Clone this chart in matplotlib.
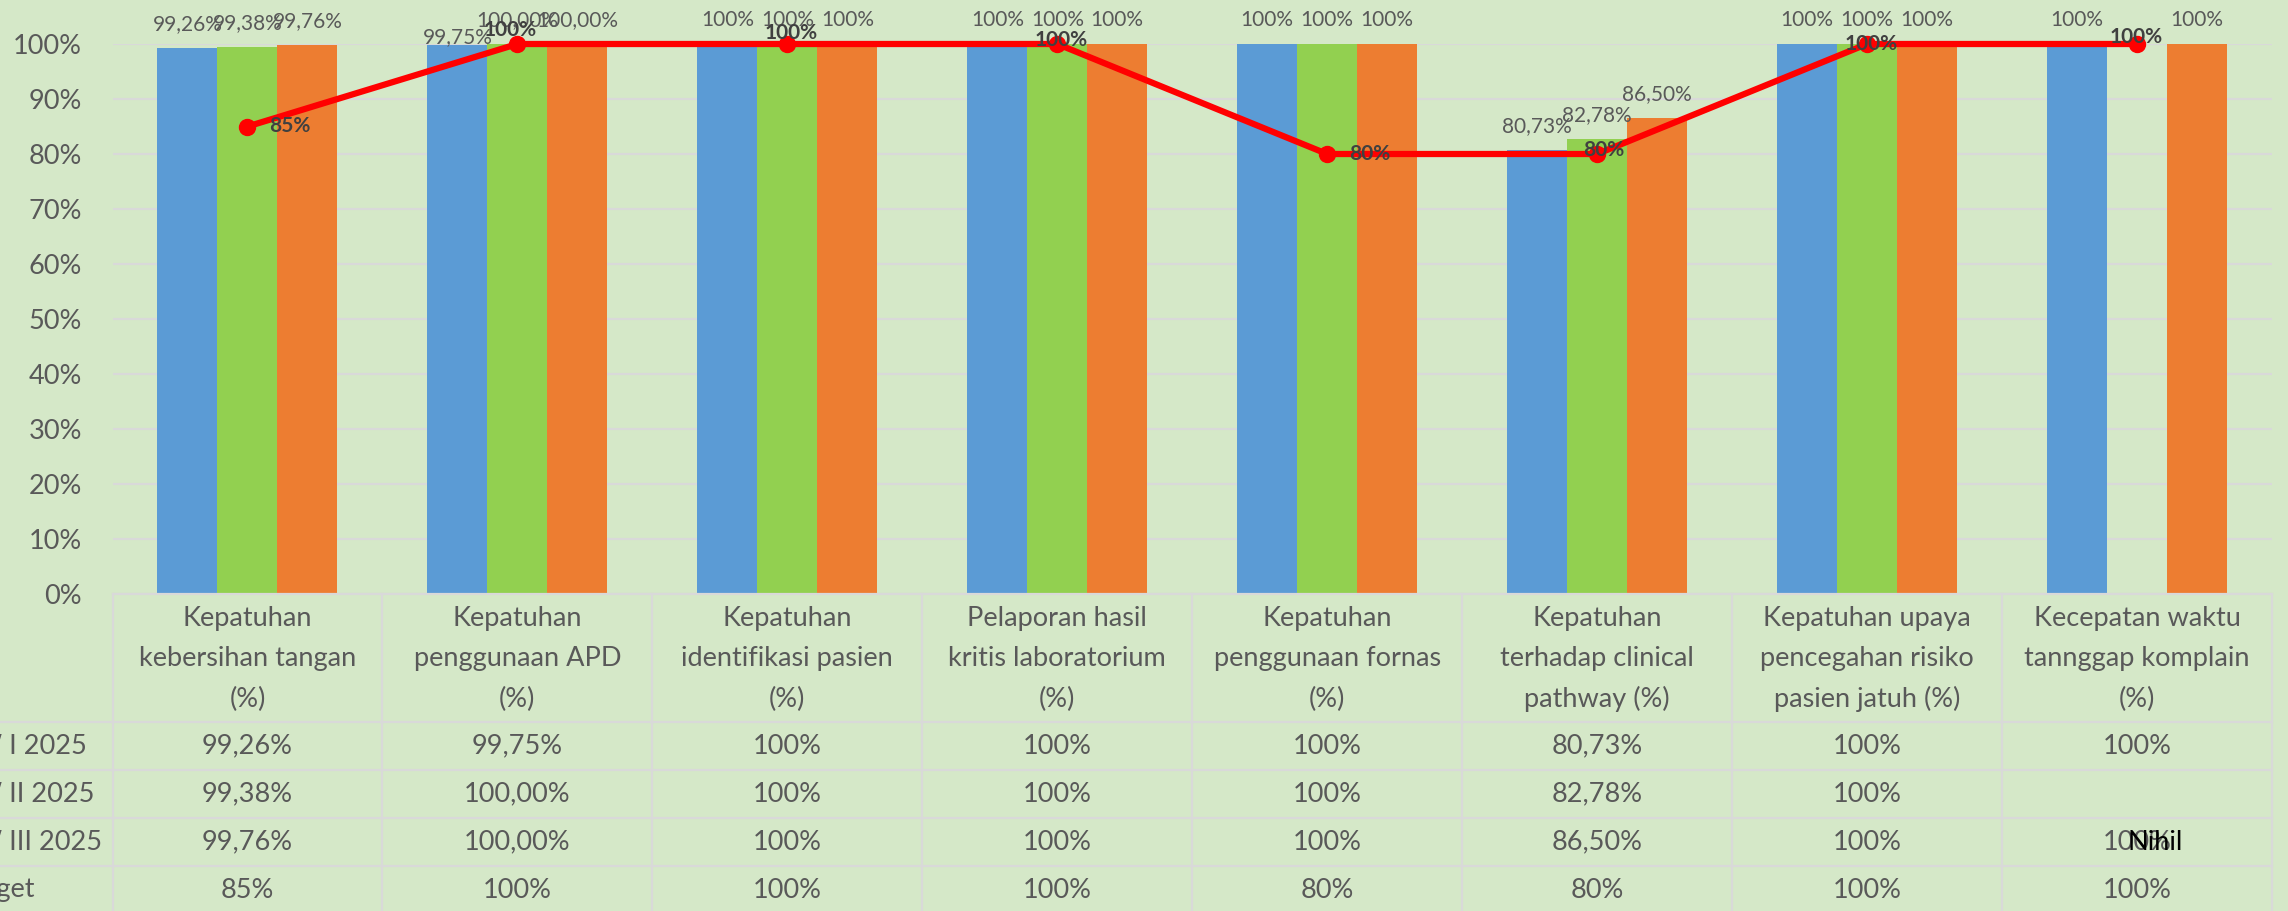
import matplotlib
matplotlib.use("Agg")
import matplotlib.pyplot as plt
from matplotlib.lines import Line2D
import numpy as np

plt.rcParams['font.family'] = ['Lato', 'DejaVu Sans']

# ---- data ----
categories = [
    "Kepatuhan\nkebersihan tangan\n(%)",
    "Kepatuhan\npenggunaan APD\n(%)",
    "Kepatuhan\nidentifikasi pasien\n(%)",
    "Pelaporan hasil\nkritis laboratorium\n(%)",
    "Kepatuhan\npenggunaan fornas\n(%)",
    "Kepatuhan\nterhadap clinical\npathway (%)",
    "Kepatuhan upaya\npencegahan risiko\npasien jatuh (%)",
    "Kecepatan waktu\ntannggap komplain\n(%)",
]
series_names = ["TW I 2025", "TW II 2025", "TW III 2025", "Target"]

tw1 = [99.26, 99.75, 100, 100, 100, 80.73, 100, 100]
tw2 = [99.38, 100, 100, 100, 100, 82.78, 100, np.nan]
tw3 = [99.76, 100, 100, 100, 100, 86.50, 100, 100]
target = [85, 100, 100, 100, 80, 80, 100, 100]

tw1_lbl = ["99,26%", "99,75%", "100%", "100%", "100%", "80,73%", "100%", "100%"]
tw2_lbl = ["99,38%", "100,00%", "100%", "100%", "100%", "82,78%", "100%", ""]
tw3_lbl = ["99,76%", "100,00%", "100%", "100%", "100%", "86,50%", "100%", "100%"]
target_lbl = ["85%", "100%", "100%", "100%", "80%", "80%", "100%", "100%"]

# ---- style ----
W, H = 2288, 911
bg = "#D5E8C8"
grid_c = "#D9D9D9"
txt_c = "#595959"
colors = ["#5B9BD5", "#92D050", "#ED7D31"]
px = 0.72  # pixels -> points at dpi 100

ax_l, ax_r, ax_t, ax_b = 112.5, 2272, 44, 594

fig = plt.figure(figsize=(W / 100, H / 100), dpi=100, facecolor=bg)
ax = fig.add_axes([ax_l / W, 1 - ax_b / H, (ax_r - ax_l) / W, (ax_b - ax_t) / H])
ax.set_facecolor(bg)

x = np.arange(len(categories))
bw = 0.2222
all_series = [tw1, tw2, tw3]
all_lbls = [tw1_lbl, tw2_lbl, tw3_lbl]
label_nudge = {(0, 1): -16}

for i, (vals, lbls) in enumerate(zip(all_series, all_lbls)):
    pos = x + (i - 1) * bw
    ax.bar(pos, vals, bw, color=colors[i], zorder=2, clip_on=False)
    for j, (p, v, l) in enumerate(zip(pos, vals, lbls)):
        if not l:
            continue
        dy = 24 + label_nudge.get((i, j), 0)
        ax.annotate(l, (p, v), xytext=(0, dy * px), textcoords="offset points",
                    ha="center", va="center", fontsize=15, color=txt_c,
                    annotation_clip=False, zorder=6)

ax.plot(x, target, color="#FF0000", lw=4.5, marker="o", ms=11.5, zorder=5,
        clip_on=False)
target_off = [(42, 0), (-7, 14), (4, 11), (4, 4), (43, 0), (7, 4), (4, 0), (-1, 7)]
for xi, v, l, (dx, dy) in zip(x, target, target_lbl, target_off):
    ax.annotate(l, (xi, v), xytext=(dx * px, dy * px), textcoords="offset points",
                ha="center", va="center", fontsize=15, fontweight="bold",
                color="#404040", annotation_clip=False, zorder=7)

ax.set_xlim(-0.5, len(categories) - 0.5)
ax.set_ylim(0, 100)
ax.set_yticks(range(0, 101, 10))
ax.set_yticklabels([f"{v}%" for v in range(0, 101, 10)])
ax.tick_params(axis="y", length=0, pad=22, labelsize=19.5, labelcolor=txt_c)
ax.set_xticks([])
ax.yaxis.grid(True, color=grid_c, lw=1.6)
ax.set_axisbelow(True)
for s in ax.spines.values():
    s.set_visible(False)

# ---- data table under the chart ----
def fx(p):
    return p / W

def fy(p):
    return 1 - p / H

col_w = (ax_r - ax_l) / len(categories)
row_lines = [722, 770, 818, 866]
row_centers = [746, 794, 842, 890]

fig.add_artist(Line2D([fx(ax_l), fx(ax_r)], [fy(ax_b), fy(ax_b)], color=grid_c, lw=1.6))
for r in row_lines:
    fig.add_artist(Line2D([0, fx(ax_r)], [fy(r), fy(r)], color=grid_c, lw=1.6))
for k in range(len(categories) + 1):
    xx = fx(ax_l + k * col_w)
    fig.add_artist(Line2D([xx, xx], [fy(ax_b), 0], color=grid_c, lw=1.6))

for k, cat in enumerate(categories):
    cx = fx(ax_l + (k + 0.5) * col_w)
    fig.text(cx, fy(659), cat, ha="center", va="center", fontsize=19.5,
             color=txt_c, linespacing=1.75)
    rows = [tw1_lbl[k], tw2_lbl[k], tw3_lbl[k], target_lbl[k]]
    for rc, t in zip(row_centers, rows):
        fig.text(cx, fy(rc), t, ha="center", va="center", fontsize=19.5, color=txt_c)

for rc, name in zip(row_centers, series_names):
    fig.text(fx(-42), fy(rc), name, ha="left", va="center", fontsize=19.5, color=txt_c)

fig.text(fx(2155), fy(842), "Nihil", ha="center", va="center", fontsize=19.5,
         color="black")

fig.savefig("out.png", dpi=100, facecolor=bg)
